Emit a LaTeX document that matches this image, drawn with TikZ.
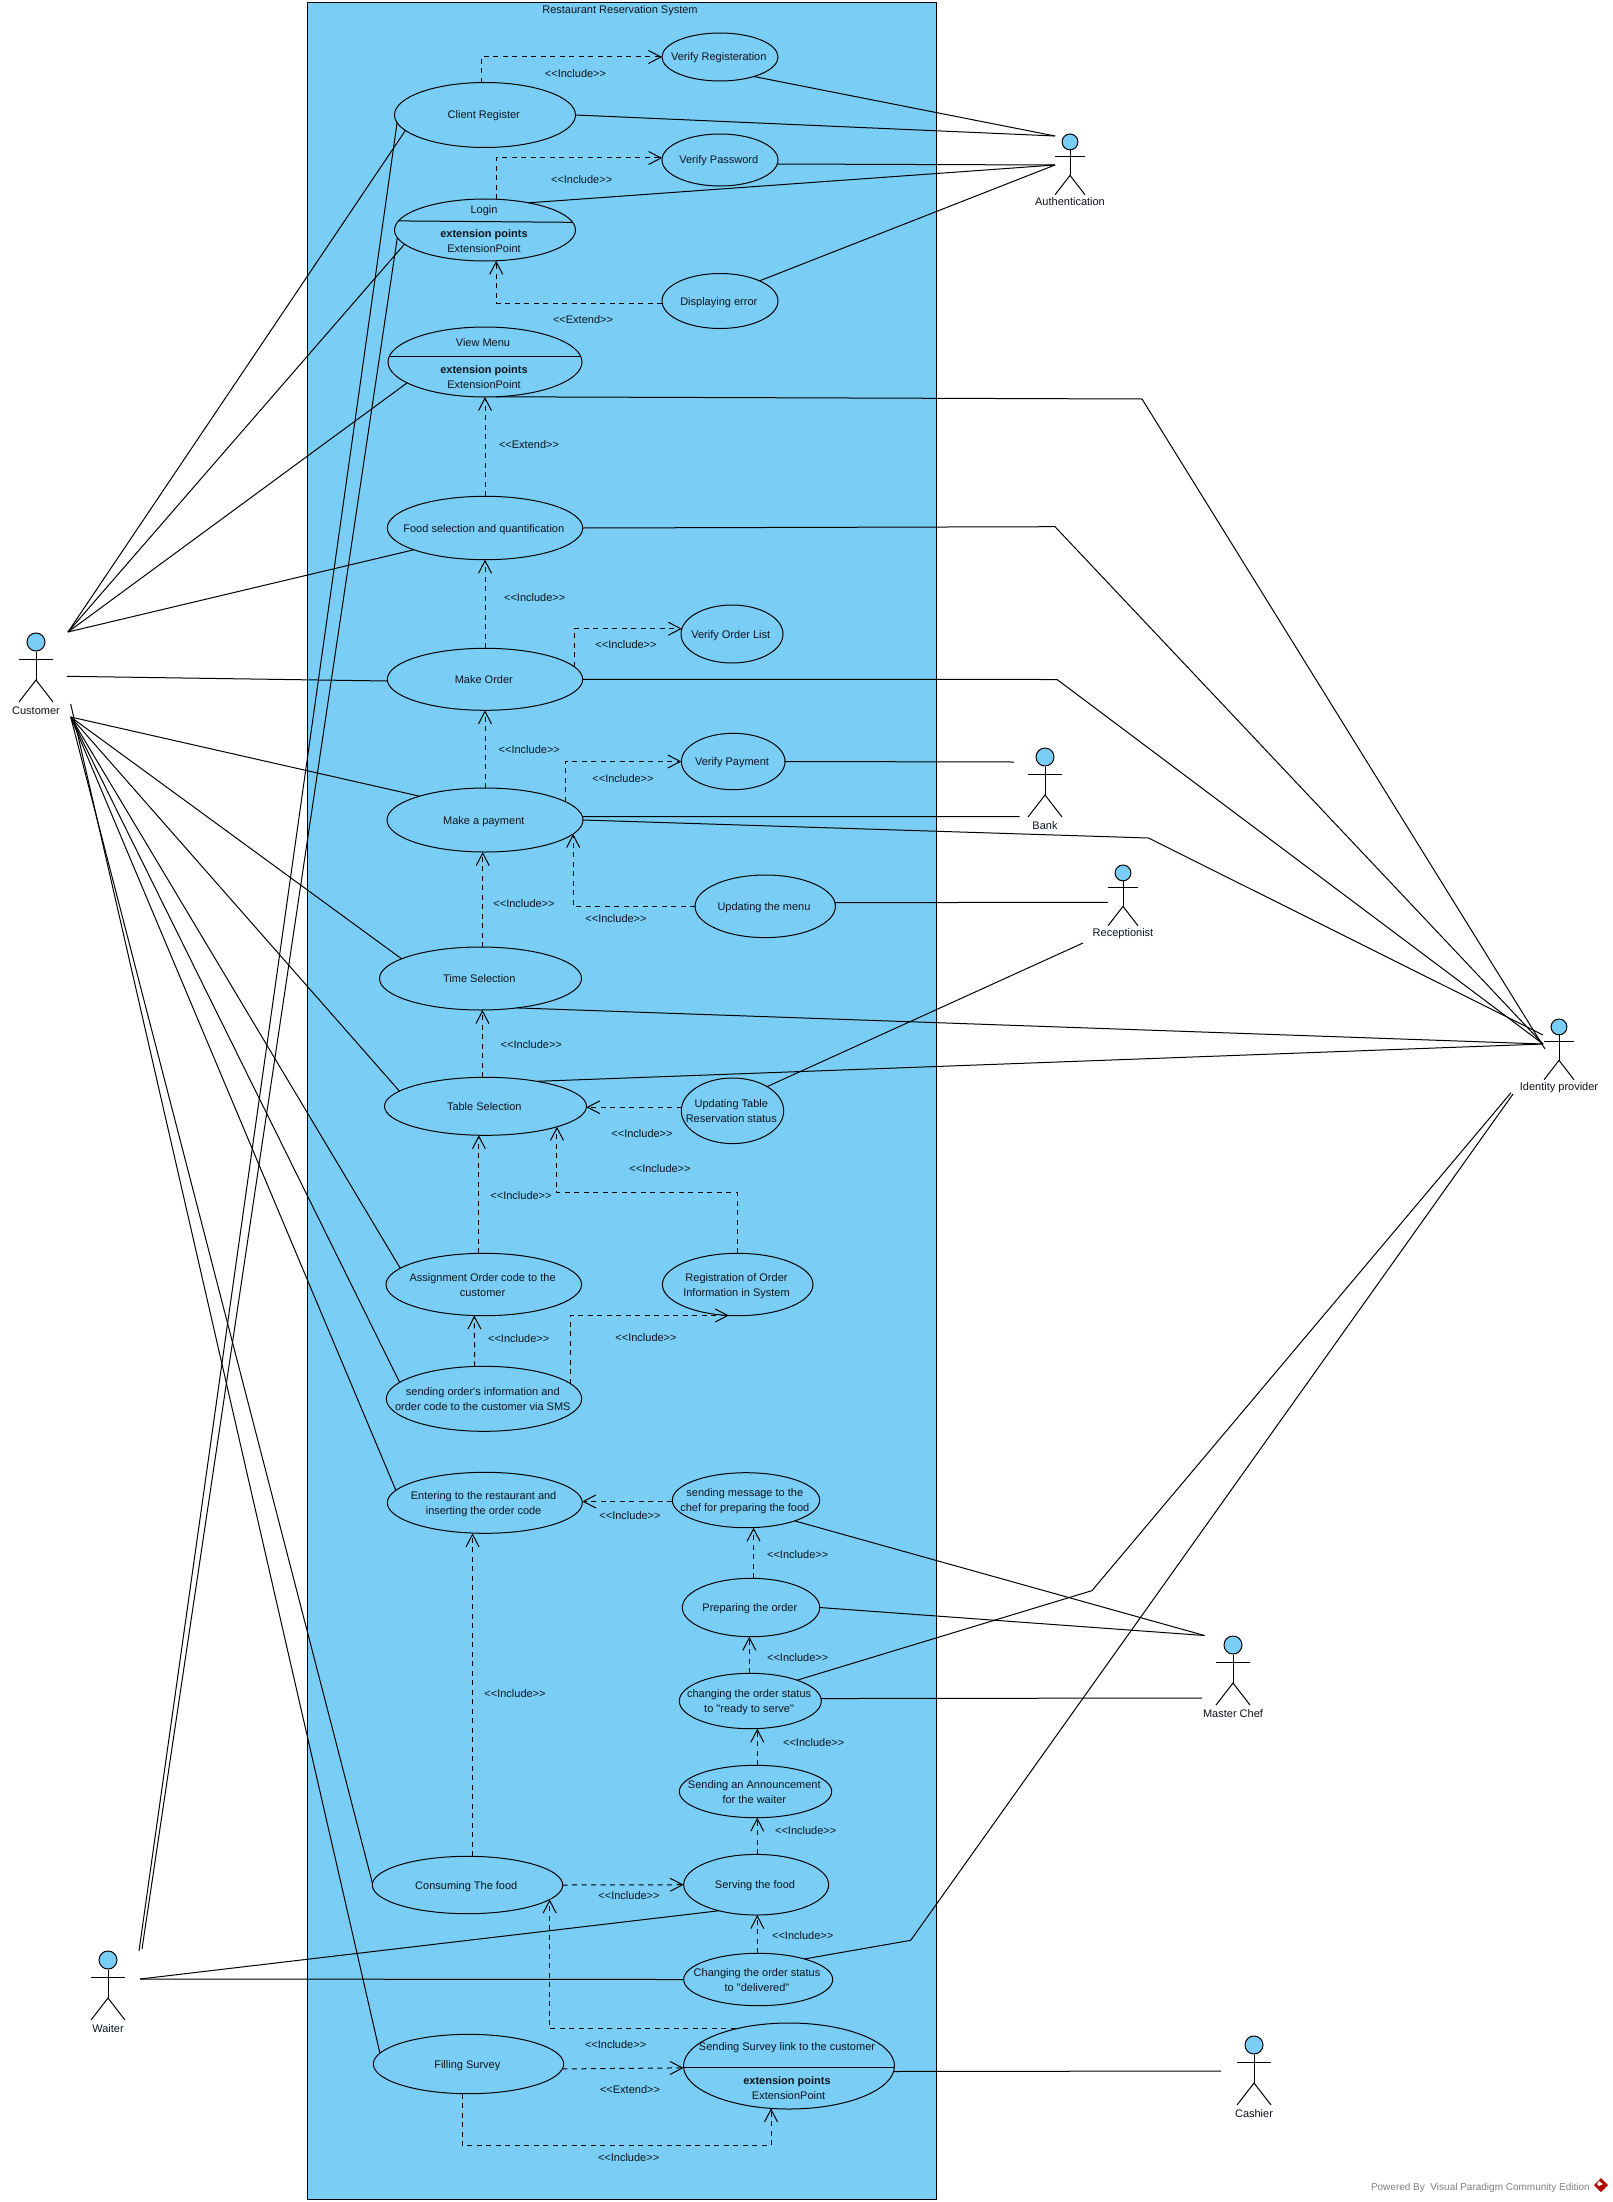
\documentclass[tikz,border=0pt]{standalone}
\usepackage{fontspec}
\setmainfont{Liberation Sans}[Ligatures=TeXOff]
\usetikzlibrary{arrows.meta,shapes.geometric}
\definecolor{ucblue}{RGB}{122,206,245}
\definecolor{inkc}{RGB}{12,20,30}
\tikzset{
  uc/.style={ellipse,draw=black,fill=ucblue,line width=1pt,inner sep=0pt,outer sep=0pt},
  lbl/.style={font=\fontsize{11}{15}\selectfont,text=inkc,align=center,inner sep=0pt,text height=8pt,text depth=0pt},
  assoc/.style={draw=black,line width=1pt,line join=miter},
  dep/.style={draw=black,line width=1pt,dash pattern=on 5pt off 4.5pt,-{Straight Barb[length=12.5pt,width=13pt,line width=1pt]}},
  figline/.style={draw=black,line width=1pt},
  divline/.style={draw=black,line width=1pt}
}
\newcommand{\ucase}[6]{%
  \node[uc,minimum width=2*#4 pt,minimum height=2*#5 pt] (#1) at (#2,#3) {};
  \node[lbl,xshift=-1.2pt] (#1-t) at (#2,#3) {#6};}
\newcommand{\ucaseii}[6]{%
  \node[uc,minimum width=2*#4 pt,minimum height=2*#5 pt] (#1) at (#2,#3) {};
  \node[lbl,xshift=-1.2pt,yshift=-7.5pt] (#1-t) at (#2,#3) {#6};}
\newcommand{\actorfig}[5]{%
  \node[ellipse,draw=black,fill=ucblue,line width=1pt,inner sep=0pt,minimum width=18*#4 pt,minimum height=18*#4 pt] (#1-h) at ({#2},{#3+9*#4}) {};
  \draw[figline] (#1-h.south) -- ({#2},{#3+47*#4});
  \draw[figline] ({#2-17*#4},{#3+26*#4}) -- ({#2+17*#4},{#3+26*#4});
  \draw[figline] ({#2-17*#4},{#3+69*#4}) -- ({#2},{#3+47*#4}) -- ({#2+17*#4},{#3+69*#4});
  \node[lbl] (#1) at ({#2},{#3+77*#4}) {#5};}
\begin{document}
\begin{tikzpicture}[x=1pt,y=-1pt]
\path[use as bounding box,fill=white] (0,0) rectangle (1613,2202);
% system
\node[draw=black,fill=ucblue,line width=1pt,inner sep=0pt,outer sep=0pt,minimum width=628.8pt,minimum height=2196pt,anchor=north west] (sys) at (307.5,3) {};
\node[lbl] (sys-t) at (620,10) {Restaurant Reservation System};
% use cases
\ucase{vreg}{720}{57}{58}{24}{Verify Registeration}
\ucase{client}{485}{115}{90.5}{32.5}{Client Register}
\ucase{vpw}{720}{160}{58}{26}{Verify Password}
\ucase{login}{485}{230}{90.5}{31}{}
\ucase{derr}{720}{301}{58}{27.5}{Displaying error}
\ucase{menu}{485}{362}{97}{35}{}
\ucase{food}{485}{528}{97.7}{31.7}{Food selection and quantification}
\ucase{order}{485}{679.3}{97.7}{31}{Make Order}
\ucase{vol}{732}{634}{51}{29}{Verify Order List}
\ucase{pay}{485}{820}{98}{32}{Make a payment}
\ucase{vpay}{733.2}{761.5}{51.8}{28.2}{Verify Payment}
\ucase{umenu}{765.2}{906.3}{70.2}{31.3}{Updating the menu}
\ucase{time}{480.5}{978.5}{101}{31.5}{Time Selection}
\ucase{table}{485.5}{1106.3}{101}{29}{Table Selection}
\ucaseii{utable}{732.5}{1110.8}{51.2}{32.8}{Updating Table\\Reservation status}
\ucaseii{assign}{483.8}{1284.5}{97.8}{31.2}{Assignment Order code to the\\customer}
\ucaseii{regi}{737.7}{1284.5}{75.3}{31.2}{Registration of Order\\Information in System}
\ucaseii{send}{484}{1398.8}{97.7}{32.5}{sending order's information and\\order code to the customer via SMS}
\ucaseii{enter}{484.8}{1502.8}{97.5}{30.5}{Entering to the restaurant and\\inserting the order code}
\ucaseii{msg}{746}{1500.2}{73.7}{27.5}{sending message to the\\chef for preparing the food}
\ucase{prep}{751}{1607.5}{68.7}{29.2}{Preparing the order}
\ucaseii{chg}{750.3}{1701}{71}{27.7}{changing the order status\\to "ready to serve"}
\ucaseii{ann}{755.5}{1791.5}{76.2}{26.2}{Sending an Announcement\\for the waiter}
\ucase{serve}{756.2}{1884.7}{72.5}{30.3}{Serving the food}
\ucase{cons}{467.5}{1885}{95.2}{28.7}{Consuming The food}
\ucaseii{deliv}{758.2}{1979.5}{74.5}{26.2}{Changing the order status\\to "delivered"}
\ucase{fill}{468.5}{2064}{95.2}{29.7}{Filling Survey}
\ucase{survey}{789}{2066}{105.5}{43}{}
% compartments
\draw[divline] (login.174.4) -- (login.5.6);
\node[lbl] (login-a) at (484,210) {Login};
\node[lbl] (login-b) at (484,233.6) {\bfseries extension points};
\node[lbl] (login-c) at (484,248) {ExtensionPoint};
\draw[divline] (menu.177) -- (menu.3);
\node[lbl] (menu-a) at (483,342) {View Menu};
\node[lbl] (menu-b) at (484,369) {\bfseries extension points};
\node[lbl] (menu-c) at (484,384) {ExtensionPoint};
\draw[divline] (survey.181.4) -- (survey.-1.4);
\node[lbl] (survey-a) at (787,2046) {Sending Survey link to the customer};
\node[lbl] (survey-b) at (787,2080.7) {\bfseries extension points};
\node[lbl] (survey-c) at (788.6,2095.5) {ExtensionPoint};
% actors
\actorfig{customer}{36}{633}{1}{Customer}
\actorfig{auth}{1070}{134}{.88}{Authentication}
\actorfig{bank}{1045}{748}{1}{Bank}
\actorfig{recep}{1123}{865}{.88}{Receptionist}
\actorfig{ident}{1559}{1019}{.88}{Identity provider}
\actorfig{chef}{1233}{1636}{1}{Master Chef}
\actorfig{cashier}{1254}{2036}{1}{Cashier}
\actorfig{waiter}{108}{1951}{1}{Waiter}
% free ends
\coordinate (cU) at (68,632);
\coordinate (cM) at (67,676.3);
\coordinate (cL) at (70.7,717);
\coordinate (cF) at (70.7,704);
\coordinate (wA) at (139,1951);
\coordinate (wB) at (142,1949);
\coordinate (wC) at (140,1979);
\coordinate (aR) at (1055,136);
\coordinate (aS) at (1055,165);
\coordinate (iA) at (1543,1044);
\coordinate (iB) at (1543,1035);
\coordinate (iC) at (1545,1049);
\coordinate (iD) at (1511,1092.7);
\coordinate (iE) at (1513,1094);
\coordinate (bA) at (1014,762);
\coordinate (bB) at (1019.5,816.7);
\coordinate (rA) at (1108,902.3);
\coordinate (rB) at (1083,943);
\coordinate (mA) at (1204.5,1635.5);
\coordinate (mB) at (1202,1698);
\coordinate (kA) at (1221,2071);
\coordinate (jMenu) at (1142,399);
\coordinate (jFood) at (1055,526.7);
\coordinate (jOrder) at (1057,679.5);
\coordinate (jPay) at (1148.5,838);
\coordinate (jChg) at (1092,1590.6);
\coordinate (jDel) at (910.7,1940.3);
\coordinate (regiJ) at (647,1192.5);
\coordinate (fillJ) at (600,2145.5);
% customer associations
\draw[assoc] (cU) -- (client.191.4);
\draw[assoc] (cU) -- (login.190.4);
\draw[assoc] (cU) -- (menu.195.9);
\draw[assoc] (cU) -- (food.197.7);
\draw[assoc] (cM) -- (order.181.8);
\draw[assoc] (cL) -- (pay.160.5);
\draw[assoc] (cL) -- (time.166.7);
\draw[assoc] (cL) -- (table.170);
\draw[assoc] (cL) -- (assign.169.4);
\draw[assoc] (cL) -- (send.169.6);
\draw[assoc] (cL) -- (enter.172.5);
\draw[assoc] (cL) -- (cons.179);
\draw[assoc] (cF) -- (fill.173.7);
% waiter associations
\draw[assoc] (wA) -- (client.185.2);
\draw[assoc] (wB) -- (login.185.8);
\draw[assoc] (wC) -- (serve.215);
\draw[assoc] (wC) -- (deliv.west);
% authentication
\draw[assoc] (vreg.330.7) -- (aR);
\draw[assoc] (client.east) -- (aR);
\draw[assoc] (vpw.356) -- (aS);
\draw[assoc] (login.32.7) -- (aS);
\draw[assoc] (derr.27.7) -- (aS);
% identity provider
\draw[assoc] (menu.287.7) -- (jMenu) -- (iC);
\draw[assoc] (food.0.8) -- (jFood) -- (iA);
\draw[assoc] (order.east) -- (jOrder) -- (iA);
\draw[assoc] (pay.0.9) -- (jPay) -- (iB);
\draw[assoc] (time.321.1) -- (iA);
\draw[assoc] (table.26) -- (iA);
\draw[assoc] (chg.24.9) -- (jChg) -- (iD);
\draw[assoc] (deliv.24.9) -- (jDel) -- (iE);
% other actors
\draw[assoc] (vpay.east) -- (bA);
\draw[assoc] (pay.2.5) -- (bB);
\draw[assoc] (umenu.3.3) -- (rA);
\draw[assoc] (utable.35.7) -- (rB);
\draw[assoc] (msg.337) -- (mA);
\draw[assoc] (prep.east) -- (mA);
\draw[assoc] (chg.2.2) -- (mB);
\draw[assoc] (survey.357.3) -- (kA);
% dependencies
\draw[dep] (client.97) |- (vreg.west);
\draw[dep] (login.70.2) |- (vpw.178);
\draw[dep] (derr.182.5) -| (login.290);
\draw[dep] (food.north) -- (menu.south);
\draw[dep] (order.north) -- (food.south);
\draw[dep] (order.8) |- (vol.174);
\draw[dep] (pay.north) -- (order.south);
\draw[dep] (pay.13.6) |- (vpay.west);
\draw[dep] (umenu.west) -| (pay.351.4);
\draw[dep] (time.86.7) -- (time.86.7 |- pay.south);
\draw[dep] (table.96.3) -- (table.96.3 |- time.south);
\draw[dep] (utable.176) -- (table.east |- utable.176);
\draw[dep] (assign.99) -- (assign.99 |- table.south);
\draw[dep] (regi.91.8) |- (regiJ) -| (table.344.5);
\draw[dep] (send.106.6) -- (assign.253);
\draw[dep] (send.10) |- (regi.254);
\draw[dep] (msg.181.6) -- (enter.east |- msg.181.6);
\draw[dep] (prep.85.5) -- (prep.85.5 |- msg.south);
\draw[dep] (chg.92) -- (chg.92 |- prep.south);
\draw[dep] (ann.86) -- (ann.86 |- chg.south);
\draw[dep] (serve.88) -- (serve.88 |- ann.south);
\draw[dep] (deliv.92) -- (deliv.92 |- serve.south);
\draw[dep] (cons.80.5) -- (cons.80.5 |- enter.south);
\draw[dep] (cons.east) -- (serve.west);
\draw[dep] (survey.145.8) -| (cons.350.3);
\draw[dep] (fill.357.6) -- (survey.181.1);
\draw[dep] (fill.258.2) |- (fillJ) -| (survey.247.7);
% labels
\node[lbl] (l1) at (575.5,74) {<<Include>>};
\node[lbl] (l2) at (581.6,180) {<<Include>>};
\node[lbl] (l3) at (583,319) {<<Extend>>};
\node[lbl] (l4) at (529,444) {<<Extend>>};
\node[lbl] (l5) at (534.7,597) {<<Include>>};
\node[lbl] (l6) at (626,644) {<<Include>>};
\node[lbl] (l7) at (529.3,749) {<<Include>>};
\node[lbl] (l8) at (623,778) {<<Include>>};
\node[lbl] (l9) at (524,903) {<<Include>>};
\node[lbl] (l10) at (616,918) {<<Include>>};
\node[lbl] (l11) at (531.3,1044) {<<Include>>};
\node[lbl] (l12) at (642,1133) {<<Include>>};
\node[lbl] (l13) at (660,1168) {<<Include>>};
\node[lbl] (l14) at (521,1195) {<<Include>>};
\node[lbl] (l15) at (518.7,1338) {<<Include>>};
\node[lbl] (l16) at (646,1337) {<<Include>>};
\node[lbl] (l17) at (630,1515) {<<Include>>};
\node[lbl] (l18) at (797.7,1554.3) {<<Include>>};
\node[lbl] (l19) at (797.7,1657) {<<Include>>};
\node[lbl] (l20) at (515,1693) {<<Include>>};
\node[lbl] (l21) at (813.7,1742) {<<Include>>};
\node[lbl] (l22) at (805.7,1830) {<<Include>>};
\node[lbl] (l23) at (629,1895) {<<Include>>};
\node[lbl] (l24) at (802.7,1935) {<<Include>>};
\node[lbl] (l25) at (615.6,2044) {<<Include>>};
\node[lbl] (l26) at (630,2089) {<<Extend>>};
\node[lbl] (l27) at (628.6,2157) {<<Include>>};
% footer
\node[lbl,font=\fontsize{10}{12}\selectfont,text=gray,anchor=east] (foot) at (1590,2186) {Powered By\ \ Visual Paradigm Community Edition};
\fill[red!70!black] (1601,2178) -- (1608,2185) -- (1601,2192) -- (1594,2185) -- cycle;
\fill[white] (1599,2181) -- (1603,2184) -- (1599,2186) -- (1597,2184) -- cycle;
\end{tikzpicture}
\end{document}
